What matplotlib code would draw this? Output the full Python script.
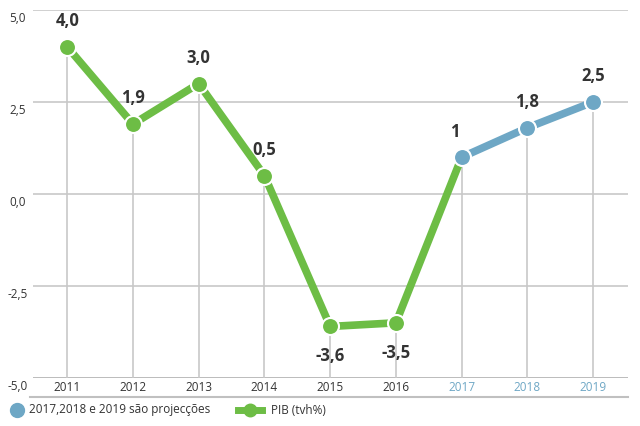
import numpy as np
import matplotlib
matplotlib.use('Agg')
import matplotlib.pyplot as plt
from matplotlib.lines import Line2D

plt.rcParams['font.family'] = ['Open Sans', 'DejaVu Sans']

years = ['2011', '2012', '2013', '2014', '2015', '2016', '2017', '2018', '2019']
pib = [4.0, 1.9, 3.0, 0.5, -3.6, -3.5, 1.0, 1.8, 2.5]
value_labels = ['4,0', '1,9', '3,0', '0,5', '-3,6', '-3,5', '1', '1,8', '2,5']
first_projection = 6
yticks = [5.0, 2.5, 0.0, -2.5, -5.0]
ytick_labels = ['5,0', '2,5', '0,0', '-2,5', '-5,0']

green = '#6dbd45'
blue = '#6ea7c5'
grid = '#c8c8c8'
dark = '#333333'

fig = plt.figure(figsize=(6.4, 4.26), dpi=100)
ax = fig.add_axes([33/640, 1 - 378/426, 595/640, 368/426])
x = np.arange(len(years))

# horizontal grid
for v in yticks:
    ax.axhline(v, color=grid if v != -5.0 else '#b5b5b5', lw=1.2 if v != -5.0 else 2, zorder=0)
# vertical lines from point down to the bottom
for xi, v in zip(x, pib):
    ax.plot([xi, xi], [-5, v], color=grid, lw=1.2, zorder=0)

ax.plot(x[:first_projection + 1], pib[:first_projection + 1], color=green, lw=5.5,
        solid_capstyle='round', zorder=2)
ax.plot(x[first_projection:], pib[first_projection:], color=blue, lw=5.5,
        solid_capstyle='round', zorder=2)
ax.scatter(x[:first_projection], pib[:first_projection], s=150, color=green,
           edgecolor='white', linewidth=1.5, zorder=3)
ax.scatter(x[first_projection:], pib[first_projection:], s=150, color=blue,
           edgecolor='white', linewidth=1.5, zorder=3)

for xi, v, lab in zip(x, pib, value_labels):
    if v < 0:
        ax.annotate(lab, (xi, v), xytext=(0, -15), textcoords='offset points',
                    ha='center', va='top', fontsize=12, fontweight='bold', color=dark)
    else:
        dx = -5 if lab == '1' else 0
        ax.annotate(lab, (xi, v), xytext=(dx, 12), textcoords='offset points',
                    ha='center', va='bottom', fontsize=12, fontweight='bold', color=dark)

ax.set_xlim(-0.52, 8.53)
ax.set_ylim(-5, 5)
ax.set_xticks([])
ax.set_yticks([])
for s in ax.spines.values():
    s.set_visible(False)

for xi, yr in zip(x, years):
    ax.text(xi, -5.25, yr, ha='center', va='center', fontsize=8.5,
            color=blue if xi >= first_projection else dark)
for v, lab in zip(yticks, ytick_labels):
    ax.text(-0.75, v - 0.22, lab, ha='center', va='center', fontsize=8.5, color=dark)

# separator line under the tick labels
fig.add_artist(Line2D([30/640, 628/640], [1 - 397/426, 1 - 397/426],
                      color='#c0c0c0', lw=1.5))

# legend
ly = 1 - 410/426
fig.add_artist(Line2D([17/640], [ly], marker='o', markersize=10, color=blue, lw=0))
fig.text(29/640, ly, '2017,2018 e 2019 são projecções', fontsize=8.5, color=dark, va='center')
fig.add_artist(Line2D([238/640, 262/640], [ly, ly], color=green, lw=5))
fig.add_artist(Line2D([250/640], [ly], marker='o', markersize=9, color=green, lw=0))
fig.text(271/640, ly, 'PIB (tvh%)', fontsize=8.5, color=dark, va='center')

fig.savefig('out.png', dpi=100)
